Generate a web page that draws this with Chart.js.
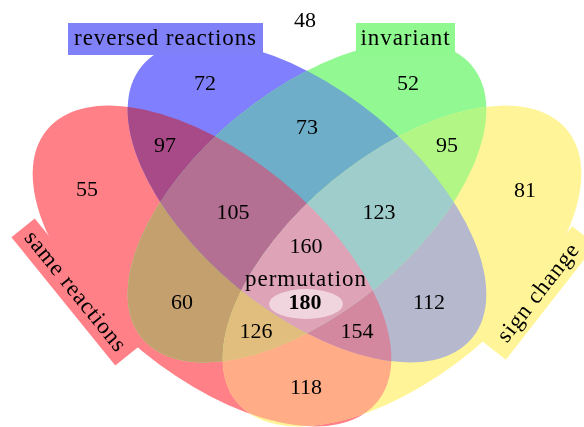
<!DOCTYPE html>
<html lang="en">
<head>
<meta charset="UTF-8">
<title>Venn diagram</title>
<script src="https://cdn.jsdelivr.net/npm/chart.js"></script>
<style>
  html, body { margin: 0; padding: 0; background: #fff; }
  .wrap { width: 584px; height: 427px; position: relative; }
</style>
</head>
<body>
<div class="wrap"><canvas id="venn"></canvas></div>
<script>
// sets, in drawing order: S = same reactions, R = reversed reactions, I = invariant, C = sign change
const setKeys = ['S', 'R', 'I', 'C'];
const setNames = ['same reactions', 'reversed reactions', 'invariant', 'sign change'];

// regions of the diagram ('' = outside every set) and their counts
const regionKeys = ['', 'S', 'R', 'I', 'C', 'SR', 'SI', 'SC', 'RI', 'RC', 'IC', 'SRI', 'SRC', 'SIC', 'RIC', 'SRIC'];
const regionCounts = [48, 55, 72, 52, 81, 97, 60, 118, 73, 112, 95, 105, 154, 126, 123, 160];

// the highlighted subset inside the four-way region
const permutationName = 'permutation';
const permutationCount = 180;

// ---- layout (diagram units = pixels of the 584x427 picture) ----
const labelPos = [[305, 21], [87, 190], [205, 84], [408, 84], [525, 191], [165, 146], [182, 303],
  [306, 388], [307, 128], [429, 303], [447, 146], [233, 213], [357, 332], [256, 332], [379, 213], [306, 247]];
const permutationPos = [305, 302];

const ellA = 214, ellB = 110;
const ellipses = {
  S: { cx: 212, cy: 266, rot: 39.5 },
  R: { cx: 307, cy: 202, rot: 39.5 },
  I: { cx: 307, cy: 202, rot: -39.5 },
  C: { cx: 402, cy: 266, rot: -39.5 }
};

// set-name boxes: centre, size, rotation
const nameBoxes = {
  S: { cx: 75, cy: 292, w: 165, h: 30, rot: 51 },
  R: { cx: 165.5, cy: 39, w: 195, h: 32, rot: 0 },
  I: { cx: 405.5, cy: 39, w: 99, h: 32, rot: 0 },
  C: { cx: 539, cy: 293, w: 146, h: 30, rot: -52 }
};

const regionColors = {
  S: '#ff8087', R: '#8080ff', I: '#92f892', C: '#fff598',
  SR: '#a84a87', SI: '#c4a06e', SC: '#ffac87', RI: '#6eaec8', RC: '#b6b9cd', IC: '#b2f686',
  SRI: '#b47092', SRC: '#d488a0', SIC: '#e1be7d', RIC: '#9ecdcc', SRIC: '#dea3b7'
};
const boxColors = { S: '#ff8087', R: '#8080f8', I: '#8ff88f', C: '#fff598' };

const numFont = '22px "Liberation Serif"';
const wordFont = '23px "Liberation Serif"';
const boldFont = 'bold 22px "Liberation Serif"';

const vennPlugin = {
  id: 'venn',
  beforeDatasetsDraw(chart) {
    const ctx = chart.ctx;
    const xs = chart.scales.x, ys = chart.scales.y;
    const px = v => xs.getPixelForValue(v);
    const py = v => ys.getPixelForValue(v);
    const rx = px(ellA) - px(0), ry = px(ellB) - px(0);

    function ellipsePath(k) {
      const e = ellipses[k];
      ctx.beginPath();
      ctx.ellipse(px(e.cx), py(e.cy), rx, ry, e.rot * Math.PI / 180, 0, 2 * Math.PI);
    }

    // fill regions, smaller intersections first, larger ones paint over them
    const keys = Object.keys(regionColors).sort((a, b) => a.length - b.length);
    keys.forEach(k => {
      ctx.save();
      k.split('').forEach(s => { ellipsePath(s); ctx.clip(); });
      ctx.fillStyle = regionColors[k];
      ctx.fillRect(0, 0, chart.width, chart.height);
      ctx.restore();
    });

    // set name boxes
    setKeys.forEach((k, i) => {
      const b = nameBoxes[k];
      ctx.save();
      ctx.translate(px(b.cx), py(b.cy));
      ctx.rotate(b.rot * Math.PI / 180);
      ctx.fillStyle = boxColors[k];
      ctx.fillRect(-b.w / 2, -b.h / 2, b.w, b.h);
      ctx.fillStyle = '#000';
      ctx.font = wordFont;
      ctx.letterSpacing = '0.9px';
      ctx.textAlign = 'center';
      ctx.textBaseline = 'middle';
      ctx.fillText(setNames[i], 0, 0);
      ctx.restore();
    });

    // white oval behind the permutation count
    ctx.save();
    ctx.fillStyle = 'rgba(255,255,255,0.55)';
    ctx.beginPath();
    ctx.ellipse(px(permutationPos[0]) + 1, py(permutationPos[1]) + 2, px(37) - px(0), px(15) - px(0), 0, 0, 2 * Math.PI);
    ctx.fill();
    ctx.restore();
  },
  afterDatasetsDraw(chart) {
    const ctx = chart.ctx;
    ctx.save();
    ctx.fillStyle = '#000';
    ctx.textAlign = 'center';
    ctx.textBaseline = 'middle';
    ctx.font = numFont;
    chart.getDatasetMeta(0).data.forEach((pt, i) => {
      ctx.fillText(String(regionCounts[i]), pt.x, pt.y);
    });
    const p = chart.getDatasetMeta(1).data[0];
    ctx.font = wordFont;
    ctx.letterSpacing = '1px';
    ctx.fillText(permutationName, p.x + 1, p.y - 22);
    ctx.letterSpacing = '0px';
    ctx.font = boldFont;
    ctx.fillText(String(permutationCount), p.x, p.y + 1);
    ctx.restore();
  }
};

new Chart(document.getElementById('venn'), {
  type: 'scatter',
  data: {
    datasets: [
      { data: labelPos.map(p => ({ x: p[0], y: p[1] })), pointRadius: 0 },
      { data: [{ x: permutationPos[0], y: permutationPos[1] }], pointRadius: 0 }
    ]
  },
  options: {
    responsive: true,
    maintainAspectRatio: false,
    animation: false,
    layout: { padding: 0 },
    plugins: { legend: { display: false }, tooltip: { enabled: false } },
    scales: {
      x: { type: 'linear', min: 0, max: 584, display: false },
      y: { type: 'linear', min: 0, max: 427, reverse: true, display: false }
    }
  },
  plugins: [vennPlugin]
});
</script>
</body>
</html>
